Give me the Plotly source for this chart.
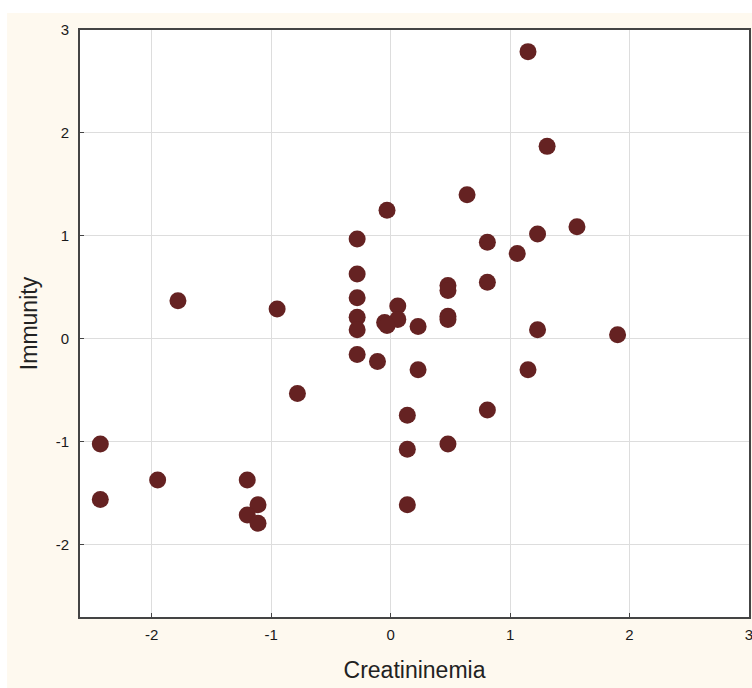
import plotly.graph_objects as go

creatininemia = [1.15, 1.31, 0.64, -0.03, -0.28, 0.81, 1.23, 1.06, 1.56,
                 -0.28, 0.81, 0.48, 0.48, -0.28, -1.78, -0.95, -0.28, -0.28,
                 0.06, 0.06, -0.05, -0.03, 0.23, 0.48, 0.48, 1.23, 1.90,
                 -0.28, -0.11, 0.23, 1.15, -0.78, 0.14, 0.81, -2.43, 0.48,
                 0.14, -1.95, -1.20, -2.43, -1.11, 0.14, -1.20, -1.11]
immunity = [2.79, 1.87, 1.40, 1.25, 0.97, 0.94, 1.02, 0.83, 1.09,
            0.63, 0.55, 0.52, 0.47, 0.40, 0.37, 0.29, 0.21, 0.09,
            0.32, 0.19, 0.16, 0.13, 0.12, 0.22, 0.19, 0.09, 0.04,
            -0.15, -0.22, -0.30, -0.30, -0.53, -0.74, -0.69, -1.02, -1.02,
            -1.07, -1.37, -1.37, -1.56, -1.61, -1.61, -1.71, -1.79]

x_ticks = [-2, -1, 0, 1, 2, 3]
x_labels = ["-2", "-1", "0", "1", "2", "3"]
y_ticks = [-2, -1, 0, 1, 2, 3]
y_labels = ["-2", "-1", "0", "1", "2", "3"]

fig = go.Figure()
fig.add_trace(go.Scatter(
    x=creatininemia, y=immunity, mode="markers",
    marker=dict(size=17, color="#652222", line=dict(width=0)),
    hoverinfo="x+y", showlegend=False,
))

axis_common = dict(
    showline=True, linecolor="#444444", linewidth=2, mirror=True,
    showgrid=True, gridcolor="#dddddd", gridwidth=1,
    zeroline=False, ticks="inside", ticklen=4, tickcolor="#444444",
    tickfont=dict(family="Liberation Sans", size=15, color="#1a1a1a"),
    automargin=False,
)

fig.update_xaxes(range=[-2.6, 3.0], tickvals=x_ticks, ticktext=x_labels,
                 ticklabelstandoff=3, ticklabeloverflow="allow",
                 title=dict(text="Creatininemia", standoff=20,
                            font=dict(family="Liberation Sans", size=23, color="#222222")),
                 **axis_common)
fig.update_yaxes(range=[-2.7, 3.0], tickvals=y_ticks, ticktext=y_labels,
                 ticklabelstandoff=6,
                 title=dict(text="Immunity", standoff=12,
                            font=dict(family="Liberation Sans", size=23, color="#222222")),
                 **axis_common)

fig.update_layout(
    width=752, height=688,
    margin=dict(l=80, r=3, t=30, b=71),
    paper_bgcolor="#fef9ef", plot_bgcolor="white",
    shapes=[
        dict(type="rect", xref="paper", yref="paper", x0=-0.2, x1=1.1,
             y0=1.029, y1=1.1, fillcolor="white", line=dict(width=0), layer="below"),
        dict(type="rect", xref="paper", yref="paper", x0=-0.2, x1=-0.109,
             y0=-0.2, y1=1.1, fillcolor="white", line=dict(width=0), layer="below"),
    ],
)

fig.write_html(
    "out.html",
    config={"displayModeBar": False},
    post_script="document.body.style.margin='0';document.body.style.overflow='hidden';",
)
